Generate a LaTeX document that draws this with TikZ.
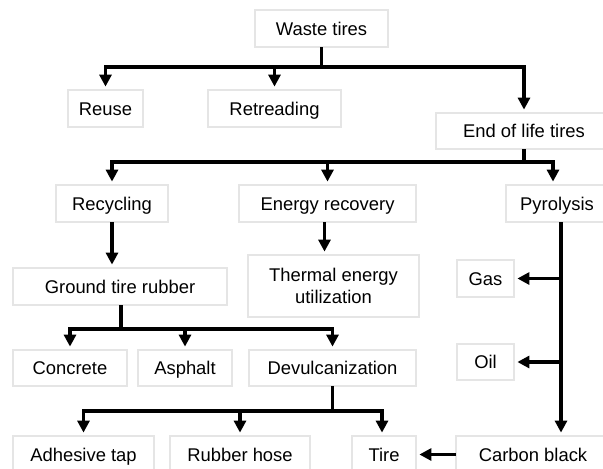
\documentclass[tikz,border=0pt]{standalone}
\usepackage{fontspec}
\setmainfont{Liberation Sans}
\usepackage{tikz}
\usetikzlibrary{arrows, arrows.meta, positioning, calc}
\tikzstyle{arrow} = [line width=3.5pt,-{Triangle[length=12pt,width=12pt]},shorten >=3pt]
\tikzstyle{line} = [line width=3.5pt]
\tikzstyle{boxbase} = [draw=gray!70, double=gray!20, double distance=1.2pt, line width=0.8pt, fill=white, inner sep=0pt, minimum height=37pt, font=\fontsize{18.4}{22}\selectfont, align=center]
\tikzstyle{box} = [boxbase, text height=17.2pt, text depth=4pt]

\begin{document}
\begin{tikzpicture}[x=1pt,y=-1pt]
\useasboundingbox (0,0) rectangle (603,469);

% Top level
\node[box, minimum width=133pt] (waste) at (321.5,28.5) {Waste tires};
\node[box, minimum width=75pt] (reuse) at (105.5,108.5) {Reuse};
\node[box, minimum width=133pt] (retread) at (274.5,108.5) {Retreading};
\node[box, minimum width=176pt, minimum height=36pt] (eol) at (524,131) {End of life tires};

\coordinate (j1) at (321.5,67);
\draw[line] (waste.south) -- (j1);
\draw[arrow] (j1) -| (reuse.north);
\draw[arrow] (j1) -| (retread.north);
\draw[arrow] (j1) -| (eol.north);

% Second level
\node[box, minimum width=112pt] (recyc) at (112,203.5) {Recycling};
\node[box, minimum width=177pt] (energy) at (327.5,203.5) {Energy recovery};
\node[box, minimum width=102pt] (pyro) at (557,203.5) {Pyrolysis};

\coordinate (j2) at (524,162);
\draw[line] (eol.south) -- (j2);
\draw[arrow] (j2) -| (recyc.north);
\draw[arrow] (j2) -| (energy.north);
\draw[arrow] (j2) -| ([xshift=-4pt]pyro.north);

% Recycling branch
\node[box, minimum width=214pt] (gtr) at (120,286.5) {Ground tire rubber};
\draw[arrow] (recyc.south) -- (recyc.south |- gtr.north);

% Energy branch
\node[boxbase, minimum width=171pt, minimum height=62pt] (thermal) at (333.5,286) {Thermal energy\\utilization};
\draw[arrow] ([xshift=-3pt]energy.south) -- ([xshift=-3pt]energy.south |- thermal.north);

% Ground tire rubber products
\node[box, minimum width=114pt, minimum height=36pt] (concrete) at (70,368) {Concrete};
\node[box, minimum width=94pt, minimum height=36pt] (asphalt) at (185,368) {Asphalt};
\node[box, minimum width=167pt, minimum height=36pt] (devulc) at (332.5,368) {Devulcanization};

\coordinate (j3) at (121,329);
\draw[line] (gtr.south -| j3) -- (j3);
\draw[arrow] (j3) -| (concrete.north);
\draw[arrow] (j3) -| (asphalt.north);
\draw[arrow] (j3) -| (devulc.north);

% Devulcanization products
\node[box, minimum width=141pt] (adhesive) at (83.5,454.5) {Adhesive tap};
\node[box, minimum width=140pt] (hose) at (240,454.5) {Rubber hose};
\node[box, minimum width=64pt] (tire) at (384,454.5) {Tire};

\coordinate (j4) at (332.5,411);
\draw[line] (devulc.south) -- (j4);
\draw[arrow] (j4) -| (adhesive.north);
\draw[arrow] (j4) -| (hose.north);
\draw[arrow] (j4) -| ([xshift=-2pt]tire.north);

% Pyrolysis products
\node[box, minimum width=57pt] (gas) at (485.5,278.5) {Gas};
\node[box, minimum width=57pt, minimum height=36pt] (oil) at (485.5,362) {Oil};
\node[box, minimum width=154pt] (carbon) at (533,454.5) {Carbon black};

\coordinate (pline) at ([xshift=4pt]pyro.south);
\draw[arrow] (pline) -- (pline |- carbon.north);
\draw[arrow] (pline |- gas.east) -- (gas.east);
\draw[arrow] (pline |- oil.east) -- (oil.east);
\draw[arrow] (carbon.west) -- (tire.east);
\end{tikzpicture}
\end{document}
